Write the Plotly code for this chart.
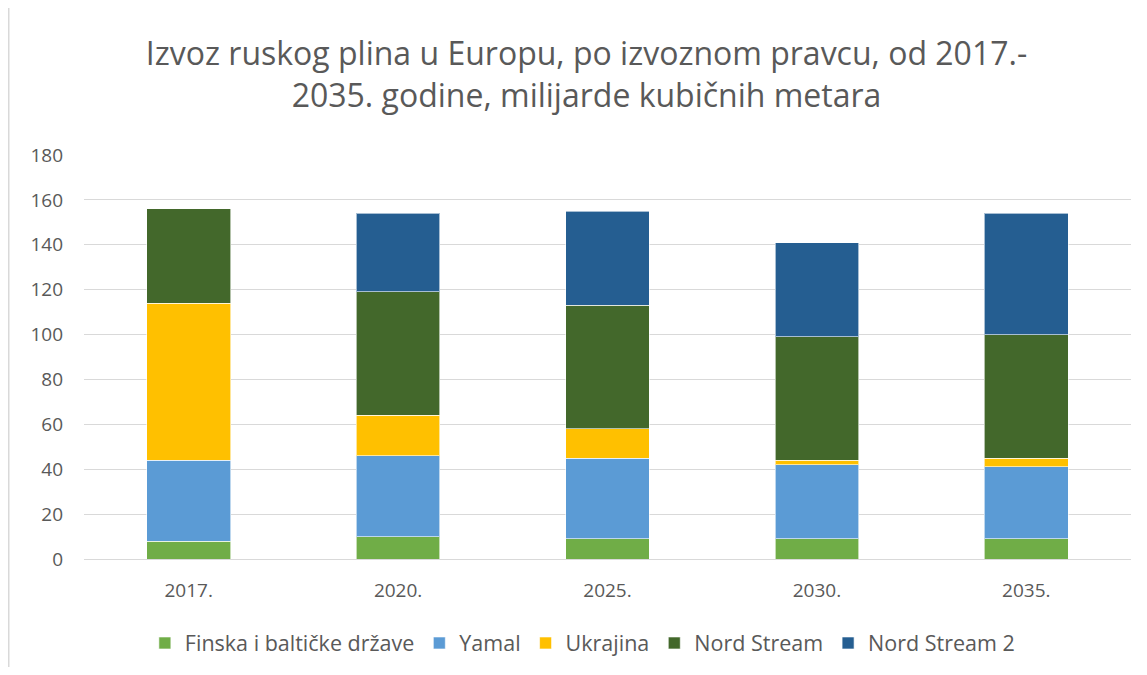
import plotly.graph_objects as go

categories = ["2017.", "2020.", "2025.", "2030.", "2035."]
finska = [8, 10, 9, 9, 9]
yamal = [36, 36, 36, 33, 32]
ukrajina = [70, 18, 13, 2, 4]
nord_stream = [42, 55, 55, 55, 55]
nord_stream_2 = [0, 35, 42, 42, 54]

series = [
    ("Finska i baltičke države", finska, "#70AD47"),
    ("Yamal", yamal, "#5B9BD5"),
    ("Ukrajina", ukrajina, "#FFC000"),
    ("Nord Stream", nord_stream, "#43682B"),
    ("Nord Stream 2", nord_stream_2, "#255E91"),
]

FONT = "Open Sans, Noto Sans, sans-serif"
fig = go.Figure()
for name, vals, col in series:
    fig.add_trace(go.Bar(
        x=categories, y=vals, name=name,
        marker=dict(color=col, line=dict(color="rgba(255,255,255,0.6)", width=1)),
    ))

# page has an 8px body margin; figure coordinates = reference - 8
W, H = 1131, 659
L, R, T, B = 76, 8, 147, 108
ph = H - T - B
pw = W - L - R

fig.update_layout(
    width=W, height=H,
    barmode="stack", bargap=0.6,
    plot_bgcolor="white", paper_bgcolor="white",
    margin=dict(l=L, r=R, t=T, b=B, autoexpand=False),
    font=dict(family=FONT, color="#595959", size=19),
    title=dict(
        text="Izvoz ruskog plina u Europu, po izvoznom pravcu, od 2017.-<br>2035. godine, milijarde kubičnih metara",
        x=578.5 / W, xanchor="center", xref="container",
        y=1 - 57 / H, yanchor="middle", yref="container",
        font=dict(size=32, color="#595959", family=FONT),
    ),
    xaxis=dict(showgrid=False, showline=True, linecolor="#D9D9D9", linewidth=1,
               ticks="", tickfont=dict(size=19), ticklabelstandoff=14,
               automargin=False),
    yaxis=dict(range=[0, 180], dtick=20, showgrid=True, gridcolor="#D9D9D9",
               gridwidth=1, zeroline=False, showline=False, ticks="",
               tickfont=dict(size=19), ticklabelstandoff=20, automargin=False),
    legend=dict(orientation="h", x=0.476, xanchor="center",
                y=(551 - 635) / ph, yanchor="middle",
                font=dict(size=21.5), traceorder="normal",
                itemwidth=30, tracegroupgap=0),
    shapes=[dict(type="line", xref="paper", yref="paper",
                 x0=(0.75 - L) / pw, x1=(0.75 - L) / pw,
                 y0=(H - B) / ph, y1=(H - B - H) / ph,
                 line=dict(color="#D9D9D9", width=1.5))],
)

fig.write_html("out.html")
